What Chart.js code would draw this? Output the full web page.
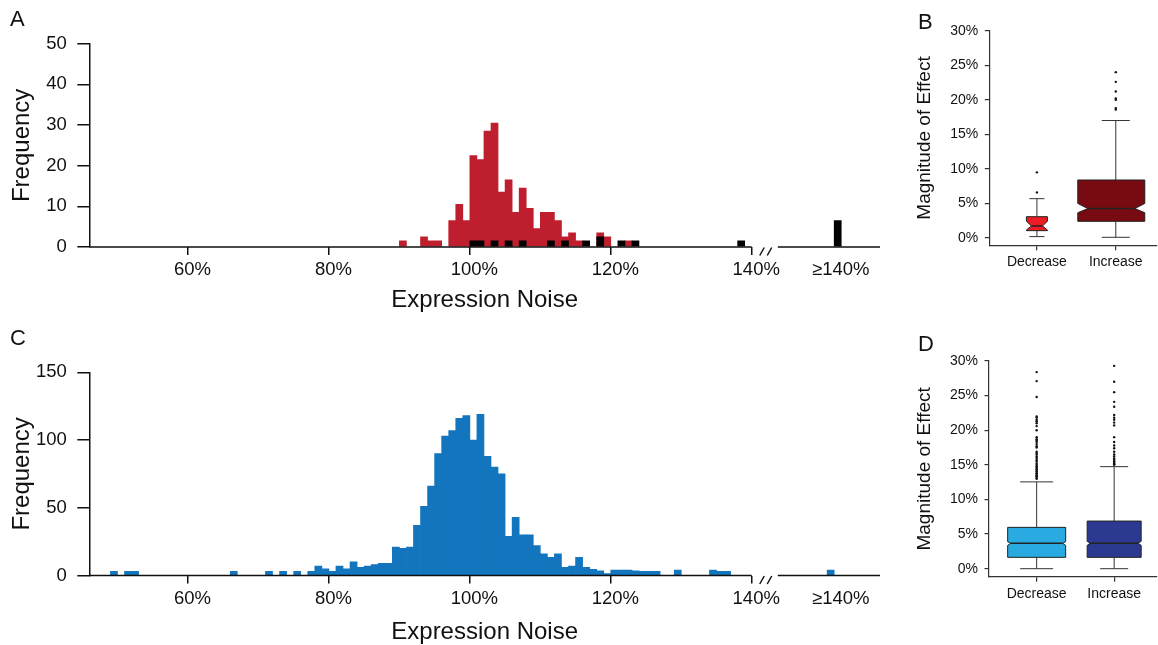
<!DOCTYPE html>
<html>
<head>
<meta charset="utf-8">
<script src="https://cdn.jsdelivr.net/npm/chart.js@4.4.1/dist/chart.umd.min.js"></script>
<style>
  html, body { margin: 0; background: #fff; }
  #page { position: relative; width: 1158px; height: 645px; overflow: hidden;
          font-family: "Liberation Sans", Arial, sans-serif; }
  #page canvas { position: absolute; }
  .panel { position: absolute; font-size: 22px; line-height: 22px; color: #111; }
</style>
</head>
<body>
<div id="page">
  <canvas id="histA" width="900" height="320" style="left:0;top:0"></canvas>
  <canvas id="histC" width="900" height="325" style="left:0;top:320px"></canvas>
  <canvas id="boxB" width="268" height="320" style="left:890px;top:0"></canvas>
  <canvas id="boxD" width="268" height="325" style="left:890px;top:320px"></canvas>
  <div class="panel" style="left:10px;top:8px">A</div>
  <div class="panel" style="left:918px;top:11px">B</div>
  <div class="panel" style="left:10px;top:327px">C</div>
  <div class="panel" style="left:918px;top:333px">D</div>
</div>
<script>
// ---------- data ----------
const noiseTicks    = [60, 80, 100, 120, 140];
const overflowLabel = "≥140%";
const freqTicksA    = [0, 10, 20, 30, 40, 50];
const freqTicksC    = [0, 50, 100, 150];
const pctTicks      = [0, 5, 10, 15, 20, 25, 30];
const boxCats       = ["Decrease", "Increase"];

// panel A, 1% bins (value = bin start)
const aRedBins    = [90, 93, 94, 95, 97, 98, 99, 100, 101, 102, 103, 104, 105, 106, 107, 108, 109, 110, 111, 112, 113, 114, 115, 118, 119, 122];
const aRedCounts  = [1.5, 2.5, 1.5, 1.5, 6.5, 10.5, 6.5, 22.5, 21.5, 28.5, 30.5, 13.5, 16.5, 8.5, 14.5, 9.5, 4.5, 8.5, 8.5, 6.5, 2.5, 3.5, 1.5, 3.5, 2.5, 1.5];
const aBlackBins  = [100, 101, 103, 105, 107, 111, 113, 116, 118, 121, 123, 138];
const aBlackCounts = [1.5, 1.5, 1.5, 1.5, 1.5, 1.5, 1.5, 1.5, 2.5, 1.5, 1.5, 1.5];
const aBlackOverflow = 6.5;

// panel C
const cBins = [49, 51, 52, 66, 71, 73, 75,
  77, 78, 79, 80, 81, 82, 83, 84, 85, 86, 87, 88, 89, 90, 91, 92, 93, 94, 95, 96, 97, 98, 99, 100,
  101, 102, 103, 104, 105, 106, 107, 108, 109, 110, 111, 112, 113, 114, 115, 116, 117, 118, 119, 120,
  121, 122, 123, 124, 125, 126, 129, 134, 135, 136];
const cCounts = [3, 3, 3, 3, 3, 3, 3,
  3, 7, 5, 3, 7, 5, 10, 6, 7, 8, 9, 9, 21, 20, 21, 37, 51, 66, 90, 103, 107, 116, 118, 100,
  119, 88, 80, 75, 29, 43, 30, 30, 22, 16, 13.5, 16, 6, 7, 13.5, 6, 4.5, 3.5, 1.5, 4,
  4, 4, 3.5, 3, 3, 3, 4, 4, 3, 3];
const cOverflow = 4;

// panel B box stats (%)
const bLo = [0.2, 0.1], bQ1 = [1.06, 2.41], bNotchLo = [1.16, 3.66], bMed = [1.74, 4.25],
      bNotchHi = [2.42, 5.0], bQ3 = [3.08, 8.39], bHi = [5.69, 17.0];
const bOutDec = [6.6, 9.5];
const bOutInc = [18.6, 18.8, 20.0, 20.2, 21.2, 22.6, 24.0];

// panel D box stats (%)
const dLo = [0, 0], dQ1 = [1.64, 1.64], dNotchLo = [3.37, 3.37], dMed = [3.67, 3.67],
      dNotchHi = [3.9, 3.95], dQ3 = [5.97, 6.88], dHi = [12.54, 14.74];
const dOutDec = [13.0, 13.1, 13.3, 13.4, 13.5, 13.7, 13.8, 14.0, 14.1, 14.3, 14.4, 14.6, 14.8, 15.0, 15.2,
  15.5, 15.7, 16.0, 16.2, 16.5, 16.7, 16.9, 17.5, 17.7, 18.0, 18.3, 18.5, 18.7, 19.0, 20.0, 20.6, 21.0,
  21.3, 21.5, 21.8, 22.0, 24.8, 27.1, 28.4];
const dOutInc = [15.0, 15.1, 15.2, 15.4, 15.5, 15.7, 15.9, 16.2, 16.5, 16.9, 17.4, 17.8, 18.3, 19.0,
  20.7, 21.1, 21.5, 21.8, 22.2, 23.4, 24.1, 25.5, 27.0, 29.3];

// ---------- layout ----------
Chart.defaults.font.family = '"Liberation Sans", Arial, sans-serif';
Chart.defaults.color = "#111";

const X_MIN = 46, X_MAX = 158.2;      // noise axis range (%)
const BREAK_AT = 140, RESUME_AT = 143.7;
const OVERFLOW_TICK = 152;
const INK = "#111";

const toPoints = (bins, counts) => bins.map((b, i) => ({ x: b + 0.5, y: counts[i] }));

// axis line with a "//" gap before the >=140% group
const brokenAxis = {
  id: "brokenAxis",
  afterDatasetsDraw(chart) {
    const { ctx, scales: { x, y } } = chart;
    const yb = y.getPixelForValue(0);
    const xa = x.getPixelForValue(X_MIN), xb = x.getPixelForValue(BREAK_AT);
    const xc = x.getPixelForValue(RESUME_AT), xd = x.getPixelForValue(X_MAX);
    ctx.save();
    ctx.strokeStyle = INK;
    ctx.lineWidth = 1.5;
    ctx.beginPath();
    ctx.moveTo(xa, yb); ctx.lineTo(xb, yb);
    ctx.moveTo(xc, yb); ctx.lineTo(xd, yb);
    ctx.moveTo(xb + 8, yb + 8.5);  ctx.lineTo(xb + 12.5, yb + 0.5);
    ctx.moveTo(xb + 15.5, yb + 8.5); ctx.lineTo(xb + 20, yb + 0.5);
    ctx.stroke();
    ctx.restore();
  }
};

function makeHist(id, datasets, freqTicks, area) {
  const canvas = document.getElementById(id);
  const W = canvas.width, H = canvas.height;
  return new Chart(canvas, {
    type: "bar",
    data: { datasets },
    options: {
      responsive: false, animation: false, events: [],
      layout: { padding: { left: 0, top: area.top, right: W - area.right, bottom: 0 } },
      plugins: { legend: { display: false }, tooltip: { enabled: false } },
      scales: {
        x: {
          type: "linear", min: X_MIN, max: X_MAX, offset: false,
          afterBuildTicks: s => { s.ticks = [...noiseTicks, OVERFLOW_TICK].map(v => ({ value: v })); },
          afterFit: s => { s.height = H - area.bottom; },
          ticks: {
            autoSkip: false, maxRotation: 0, padding: 4, labelOffset: 4.5,
            font: { size: 18.5 }, color: INK,
            callback: v => v === OVERFLOW_TICK ? overflowLabel : v + "%"
          },
          grid: {
            offset: false, drawOnChartArea: false, tickLength: 8, lineWidth: 1.5,
            color: c => (c.tick && c.tick.value === OVERFLOW_TICK) ? "rgba(0,0,0,0)" : INK
          },
          border: { display: false },
          title: { display: true, text: "Expression Noise", font: { size: 24 }, color: INK,
                   padding: { top: 0, bottom: area.titlePad } }
        },
        y: {
          min: 0, max: freqTicks[freqTicks.length - 1],
          afterBuildTicks: s => { s.ticks = freqTicks.map(v => ({ value: v })); },
          afterFit: s => { s.width = area.left; },
          ticks: { padding: 10.5, font: { size: 18.5 }, color: INK },
          grid: { drawOnChartArea: false, tickLength: 12, lineWidth: 1.5, color: INK },
          border: { display: true, color: INK, width: 1.5 },
          title: { display: true, text: "Frequency", font: { size: 24 }, color: INK,
                   padding: { top: 7.5, bottom: 0 } }
        }
      }
    },
    plugins: [brokenAxis]
  });
}

const barStyle = { barPercentage: 1, categoryPercentage: 1, grouped: false, borderWidth: 0 };

makeHist("histA", [
  { ...barStyle, data: [...toPoints(aBlackBins, aBlackCounts), { x: 152.2, y: aBlackOverflow }],
    backgroundColor: "#000", order: 0 },
  { ...barStyle, data: toPoints(aRedBins, aRedCounts), backgroundColor: "#be1e2d", order: 1 }
], freqTicksA, { left: 89.3, right: 880, top: 43.7, bottom: 247, titlePad: 5 });

makeHist("histC", [
  { ...barStyle, data: [...toPoints(cBins, cCounts), { x: 151.2, y: cOverflow }],
    backgroundColor: "#1275bd" }
], freqTicksC, { left: 89.3, right: 880, top: 52.3, bottom: 255.5, titlePad: -2 });

// ---------- notched box plots ----------
const notchedBoxes = {
  id: "notchedBoxes",
  beforeDatasetsDraw(chart, args, o) {
    const { ctx, scales: { x, y } } = chart;
    const P = v => y.getPixelForValue(v);
    o.q1.forEach((_, i) => {
      const cx = x.getPixelForValue(i + 1);
      const bx = cx + o.shifts[i];
      const hw = o.widths[i] / 2, ind = o.indents[i], cw = o.caps[i] / 2;
      ctx.save();
      ctx.strokeStyle = "#333";
      ctx.lineWidth = 1;
      ctx.beginPath();
      ctx.moveTo(cx, P(o.q3[i])); ctx.lineTo(cx, P(o.hi[i]));
      ctx.moveTo(cx, P(o.q1[i])); ctx.lineTo(cx, P(o.lo[i]));
      ctx.moveTo(cx - cw, P(o.hi[i])); ctx.lineTo(cx + cw, P(o.hi[i]));
      ctx.moveTo(cx - cw, P(o.lo[i])); ctx.lineTo(cx + cw, P(o.lo[i]));
      ctx.stroke();

      ctx.beginPath();
      ctx.moveTo(bx - hw, P(o.q3[i]));
      ctx.lineTo(bx + hw, P(o.q3[i]));
      ctx.lineTo(bx + hw, P(o.nHi[i]));
      ctx.lineTo(bx + hw - ind, P(o.med[i]));
      ctx.lineTo(bx + hw, P(o.nLo[i]));
      ctx.lineTo(bx + hw, P(o.q1[i]));
      ctx.lineTo(bx - hw, P(o.q1[i]));
      ctx.lineTo(bx - hw, P(o.nLo[i]));
      ctx.lineTo(bx - hw + ind, P(o.med[i]));
      ctx.lineTo(bx - hw, P(o.nHi[i]));
      ctx.closePath();
      ctx.fillStyle = o.fills[i];
      ctx.fill();
      ctx.strokeStyle = "#222";
      ctx.stroke();

      ctx.beginPath();
      ctx.lineWidth = 1.5;
      ctx.moveTo(bx - hw + ind, P(o.med[i])); ctx.lineTo(bx + hw - ind, P(o.med[i]));
      ctx.stroke();
      ctx.restore();
    });
  }
};

function makeBox(id, stats, outliers, area) {
  const canvas = document.getElementById(id);
  const W = canvas.width, H = canvas.height;
  const AX = "#333";
  return new Chart(canvas, {
    type: "scatter",
    data: {
      datasets: outliers.map((vals, i) => ({
        data: vals.map(v => ({ x: i + 1, y: v })),
        pointRadius: 1.2, pointHoverRadius: 0, backgroundColor: "#111", borderWidth: 0
      }))
    },
    options: {
      responsive: false, animation: false, events: [],
      layout: { padding: { left: 0, top: area.top, right: W - area.right, bottom: 0 } },
      plugins: { legend: { display: false }, tooltip: { enabled: false }, notchedBoxes: stats },
      scales: {
        x: {
          type: "linear", min: area.xMin, max: area.xMax,
          afterBuildTicks: s => { s.ticks = boxCats.map((c, i) => ({ value: i + 1 })); },
          afterFit: s => { s.height = H - area.bottom; },
          ticks: { autoSkip: false, maxRotation: 0, padding: 3.7, font: { size: 14 }, color: INK,
                   callback: v => boxCats[v - 1] },
          grid: { drawOnChartArea: false, tickLength: 5, lineWidth: 1.2, color: AX },
          border: { display: true, color: AX, width: 1.2 }
        },
        y: {
          min: area.yMin, max: 30,
          afterBuildTicks: s => { s.ticks = pctTicks.map(v => ({ value: v })); },
          afterFit: s => { s.width = area.left; },
          ticks: { padding: 6.5, font: { size: 14 }, color: INK, callback: v => v + "%" },
          grid: { drawOnChartArea: false, tickLength: 4.5, lineWidth: 1.2, color: AX },
          border: { display: true, color: AX, width: 1.2 },
          title: { display: true, text: "Magnitude of Effect", font: { size: 19 }, color: INK,
                   padding: { top: 23.5, bottom: 0 } }
        }
      }
    },
    plugins: [notchedBoxes]
  });
}

makeBox("boxB",
  { lo: bLo, q1: bQ1, nLo: bNotchLo, med: bMed, nHi: bNotchHi, q3: bQ3, hi: bHi,
    fills: ["#ec1c24", "#780a12"], widths: [21, 67], indents: [5, 10], caps: [15, 28],
    shifts: [0, -4.5] },
  [bOutDec, bOutInc],
  { left: 99.3, right: 267, top: 30.7, bottom: 245.3, xMin: 0.396, xMax: 2.52, yMin: -1.06 });

makeBox("boxD",
  { lo: dLo, q1: dQ1, nLo: dNotchLo, med: dMed, nHi: dNotchHi, q3: dQ3, hi: dHi,
    fills: ["#29abe2", "#2b3990"], widths: [58, 54], indents: [3, 3], caps: [33, 28],
    shifts: [0, 0] },
  [dOutDec, dOutInc],
  { left: 99, right: 267, top: 41, bottom: 256.7, xMin: 0.385, xMax: 2.55, yMin: -1.156 });
</script>
</body>
</html>
